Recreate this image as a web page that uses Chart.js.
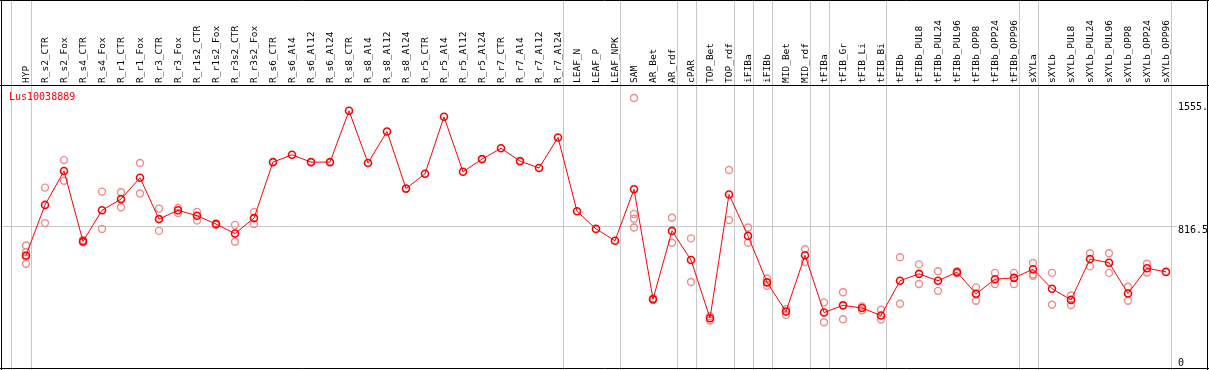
<!DOCTYPE html>
<html>
<head>
<meta charset="utf-8">
<script src="https://cdn.jsdelivr.net/npm/chart.js@4/dist/chart.umd.min.js"></script>
<style>
  html, body { margin: 0; padding: 0; background: #fff; }
  canvas { display: block; }
</style>
</head>
<body>
<canvas id="exprChart" width="1209" height="370"></canvas>
<script>
// Categories (samples)
const categories = [
  "HYP", "R_s2_CTR", "R_s2_Fox", "R_s4_CTR", "R_s4_Fox", "R_r1_CTR", "R_r1_Fox",
  "R_r3_CTR", "R_r3_Fox", "R_r1s2_CTR", "R_r1s2_Fox", "R_r3s2_CTR", "R_r3s2_Fox",
  "R_s6_CTR", "R_s6_Al4", "R_s6_Al12", "R_s6_Al24", "R_s8_CTR", "R_s8_Al4", "R_s8_Al12",
  "R_s8_Al24", "R_r5_CTR", "R_r5_Al4", "R_r5_Al12", "R_r5_Al24", "R_r7_CTR", "R_r7_Al4",
  "R_r7_Al12", "R_r7_Al24", "LEAF_N", "LEAF_P", "LEAF_NPK", "SAM", "AR_Bet", "AR_rdf",
  "cPAR", "TOP_Bet", "TOP_rdf", "iFIBa", "iFIBb", "MID_Bet", "MID_rdf", "tFIBa",
  "tFIB_Gr", "tFIB_Li", "tFIB_Bi", "tFIBb", "tFIBb_PUL8", "tFIBb_PUL24", "tFIBb_PUL96",
  "tFIBb_OPP8", "tFIBb_OPP24", "tFIBb_OPP96", "sXYLa", "sXYLb", "sXYLb_PUL8",
  "sXYLb_PUL24", "sXYLb_PUL96", "sXYLb_OPP8", "sXYLb_OPP24", "sXYLb_OPP96"
];

// Mean expression per sample
const meanValues = [
  637, 941, 1145, 722, 909, 976, 1104,
  856, 909, 876, 826, 769, 862,
  1198, 1242, 1198, 1198, 1506, 1193, 1382,
  1039, 1128, 1470, 1140, 1216, 1281, 1204,
  1163, 1346, 903, 797, 726, 1035, 375, 785,
  610, 261, 1004, 755, 476, 301, 639, 295,
  338, 322, 277, 486, 527, 486, 537,
  407, 495, 503, 555, 438, 371,
  616, 594, 409, 561, 539
];

// Replicate values per sample
const replicateValues = [
  [697, 657, 628, 588], [1045, 832], [1210, 1086], [730, 716], [1021, 797], [1017, 927], [1193, 1010],
  [919, 785], [923, 893], [899, 848], [830, 822], [821, 720], [899, 826],
  [], [], [], [], [], [], [],
  [], [], [], [], [], [], [],
  [], [], [], [], [], [1583, 887, 858, 805], [380, 370], [864, 714],
  [740, 478], [273, 247], [1151, 850], [805, 714], [499, 456], [281, 316], [675, 598], [356, 236],
  [417, 255], [332, 308], [312, 253], [627, 348], [584, 466], [543, 425], [543, 531],
  [446, 366], [533, 466], [533, 466], [592, 525, 515], [533, 342], [397, 340],
  [651, 572], [651, 533], [450, 366], [588, 535], []
];

// Y tick values and labels, group separators (in category units)
const yTicks = [0, 816.5, 1555];
const yTickLabels = ["0", "816.5", "1555."];
const groupBreaks = [-0.8, 0.25, 28.25, 31.25, 34.25, 35.25, 37.25, 38.25, 39.25, 41.25, 42.25, 45.25, 52.25, 53.25, 60.25];
const geneName = "Lus10038889";

const MONO = "'DejaVu Sans Mono', 'Liberation Mono', monospace";

const replicatePoints = replicateValues.flatMap((reps, i) =>
  reps.map((v) => ({ x: categories[i], y: v }))
);

// Frame, grid, y labels and title
const framePlugin = {
  id: "frame",
  beforeDatasetsDraw(chart) {
    const { ctx, chartArea, scales } = chart;
    const W = chart.width, H = chart.height;
    ctx.save();
    ctx.lineWidth = 1;

    // vertical group lines
    ctx.strokeStyle = "#c8c8c8";
    groupBreaks.forEach((b) => {
      const x = Math.round(scales.x.getPixelForValue(b)) + 0.5;
      ctx.beginPath();
      ctx.moveTo(x, 0);
      ctx.lineTo(x, H);
      ctx.stroke();
    });

    // horizontal mid line
    const ym = Math.round(scales.y.getPixelForValue(yTicks[1])) + 0.5;
    ctx.beginPath();
    ctx.moveTo(0, ym);
    ctx.lineTo(chartArea.right + 11, ym);
    ctx.stroke();

    // black frame
    ctx.strokeStyle = "#000";
    ctx.beginPath();
    ctx.moveTo(0, 0.5); ctx.lineTo(W, 0.5);
    ctx.moveTo(0, chartArea.top + 0.5); ctx.lineTo(W, chartArea.top + 0.5);
    ctx.moveTo(0, H - 1.5); ctx.lineTo(W, H - 1.5);
    ctx.moveTo(1.5, 0); ctx.lineTo(1.5, H);
    ctx.moveTo(W - 1.5, 0); ctx.lineTo(W - 1.5, H);
    ctx.stroke();

    // y labels
    ctx.fillStyle = "#000";
    ctx.font = "10px " + MONO;
    ctx.textBaseline = "top";
    ctx.textAlign = "left";
    yTicks.forEach((v, i) => {
      const y = Math.min(scales.y.getPixelForValue(v), H - 12);
      ctx.fillText(yTickLabels[i], chartArea.right + 12, y);
    });

    // gene title
    ctx.fillStyle = "#ff0000";
    ctx.fillText(geneName, 9, chartArea.top + 7);
    ctx.restore();
  },
};

new Chart(document.getElementById("exprChart"), {
  type: "line",
  data: {
    labels: categories,
    datasets: [
      {
        label: "mean",
        data: meanValues,
        borderColor: "#ff0000",
        borderWidth: 1,
        pointRadius: 3.5,
        pointBorderWidth: 1.6,
        pointBorderColor: "#ff0000",
        pointBackgroundColor: "rgba(0,0,0,0)",
        tension: 0,
        order: 1,
      },
      {
        type: "scatter",
        label: "replicates",
        data: replicatePoints,
        showLine: false,
        pointRadius: 3.5,
        pointBorderWidth: 1.4,
        pointBorderColor: "rgb(238,140,140)",
        pointBackgroundColor: "rgba(0,0,0,0)",
        order: 2,
      },
    ],
  },
  options: {
    responsive: false,
    animation: false,
    layout: { padding: { left: 26, right: 43, top: 0, bottom: 1 } },
    scales: {
      x: {
        type: "category",
        position: "top",
        offset: false,
        grid: { display: false, drawTicks: false },
        border: { display: false },
        ticks: {
          autoSkip: false,
          minRotation: 90,
          maxRotation: 90,
          padding: 2,
          labelOffset: 12,
          color: "#000",
          font: { family: MONO, size: 9.5 },
        },
        afterFit: (scale) => { scale.height = 85; },
      },
      y: {
        display: false,
        min: -16.5,
        max: 1661,
      },
    },
    plugins: {
      legend: { display: false },
      tooltip: { enabled: false },
    },
  },
  plugins: [framePlugin],
});
</script>
</body>
</html>
